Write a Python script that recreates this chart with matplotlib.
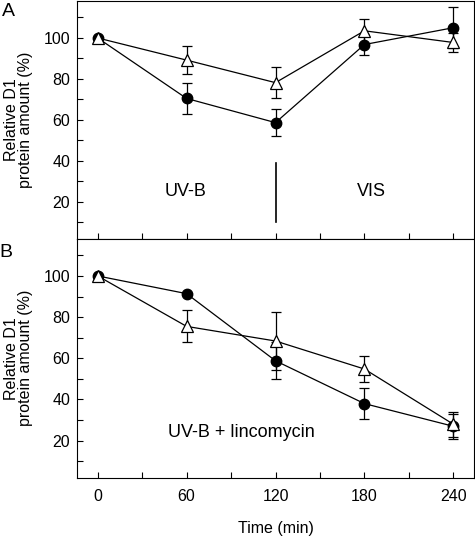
import matplotlib
matplotlib.use("Agg")
import matplotlib.pyplot as plt
from matplotlib.ticker import MultipleLocator

plt.rcParams['font.family'] = ['Liberation Sans', 'DejaVu Sans']

time = [0, 60, 120, 180, 240]

# panel A: UV-B then VIS
a_circle = [100, 70.5, 58.7, 96.8, 105]
a_circle_err = [0, 7.7, 6.5, 5.3, 10]
a_tri = [100, 89.2, 78.2, 103.5, 97.8]
a_tri_err = [0, 7, 7.5, 6, 4.5]

# panel B: UV-B + lincomycin
b_circle = [100, 91.4, 58.8, 38, 27]
b_circle_err = [0, 0, 9, 7.5, 6]
b_tri = [100, 75.5, 68.4, 54.8, 28]
b_tri_err = [0, 7.8, 14, 6.3, 6]

xticks = [0, 60, 120, 180, 240]
yticks = [20, 40, 60, 80, 100]

fig = plt.figure(figsize=(4.75, 5.38), dpi=100)
ax1 = fig.add_axes([0.162, 0.556, 0.836, 0.442])
ax2 = fig.add_axes([0.162, 0.112, 0.836, 0.444])


def draw(ax, yc, ec, yt, et):
    ax.errorbar(time, yc, yerr=ec, color='black', marker='o', ms=7.5,
                mfc='black', mec='black', lw=0.9, elinewidth=0.9,
                capsize=3.5, capthick=0.9)
    ax.errorbar(time, yt, yerr=et, color='black', marker='^', ms=8.5,
                mfc='white', mec='black', mew=0.9, lw=0.9, elinewidth=0.9,
                capsize=3.5, capthick=0.9)
    ax.set_xlim(-14, 254)
    ax.set_ylim(2, 118)
    ax.set_xticks(xticks)
    ax.set_yticks(yticks)
    ax.xaxis.set_minor_locator(MultipleLocator(30))
    ax.yaxis.set_minor_locator(MultipleLocator(10))
    ax.tick_params(which='both', direction='in', length=4, width=0.8,
                   labelsize=11.5)
    ax.tick_params(axis='x', pad=8)
    ax.tick_params(axis='y', pad=5)
    for s in ax.spines.values():
        s.set_linewidth(0.8)
    ax.set_ylabel("Relative D1\nprotein amount (%)", fontsize=11.5,
                  linespacing=0.9)
    ax.yaxis.set_label_coords(-0.11, 0.5)


draw(ax1, a_circle, a_circle_err, a_tri, a_tri_err)
draw(ax2, b_circle, b_circle_err, b_tri, b_tri_err)

ax1.tick_params(axis='x', labelbottom=False)
ax1.plot([120, 120], [10, 39], color='black', lw=1.2)
ax1.text(59, 25, "UV-B", ha='center', va='center', fontsize=13)
ax1.text(185, 25, "VIS", ha='center', va='center', fontsize=13)

ax2.text(97, 24, "UV-B + lincomycin", ha='center', va='center', fontsize=13)
ax2.set_xlabel("Time (min)", fontsize=11.5, labelpad=12)

fig.text(0.017, 0.979, "A", ha='center', va='center', fontsize=14)
fig.text(0.013, 0.530, "B", ha='center', va='center', fontsize=14)

fig.savefig("out.png", dpi=100)
